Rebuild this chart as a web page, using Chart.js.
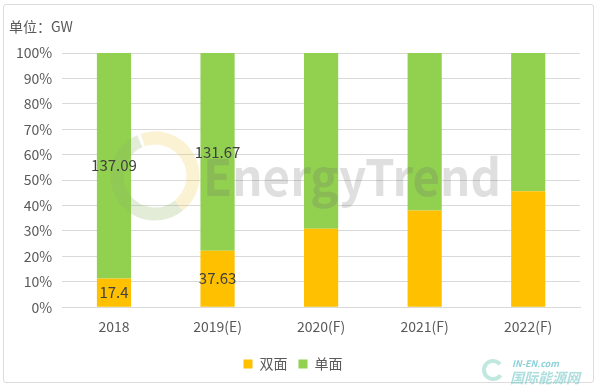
<!DOCTYPE html>
<html>
<head>
<meta charset="utf-8">
<script src="https://cdn.jsdelivr.net/npm/chart.js@4"></script>
<style>
  html, body { margin: 0; padding: 0; background: #fff; }
  #wrap { position: relative; width: 600px; height: 391px; }
  #frame { position: absolute; left: 3px; top: 4px; width: 591px; height: 379px; border: 1px solid #dcdcdc; border-radius: 3px; box-sizing: border-box; }
  #share { position: absolute; left: 0; top: 0; }
</style>
</head>
<body>
<div id="wrap">
  <div id="frame"></div>
  <canvas id="share" width="600" height="391"></canvas>
</div>
<script>
  // kategori tahun
  const years = ['2018', '2019(E)', '2020(F)', '2021(F)', '2022(F)'];
  // porsi (%) tiap tahun
  const bifacialPct = [11.3, 22.2, 30.9, 38.0, 45.6];
  const monoPct = [88.7, 77.8, 69.1, 62.0, 54.4];
  // label nilai GW yang tertulis di batang
  const bifacialGW = ['17.4', '37.63', null, null, null];
  const monoGW = ['137.09', '131.67', null, null, null];
  const yTicks = [0, 10, 20, 30, 40, 50, 60, 70, 80, 90, 100];

  const FONT = '"Noto Sans CJK SC", "Noto Sans", sans-serif';

  // watermark di atas batang + judul satuan
  const overlay = {
    id: 'overlay',
    afterDatasetsDraw(chart) {
      const ctx = chart.ctx;
      ctx.save();
      // lingkaran logo samar
      ctx.lineWidth = 13;
      ctx.strokeStyle = 'rgba(240, 200, 80, 0.25)';
      ctx.beginPath();
      ctx.arc(155, 176, 38, -1.9, 0.9);
      ctx.stroke();
      ctx.strokeStyle = 'rgba(140, 180, 90, 0.25)';
      ctx.beginPath();
      ctx.arc(155, 176, 38, 0.9, 4.3);
      ctx.stroke();
      ctx.fillStyle = 'rgba(110, 110, 110, 0.22)';
      ctx.font = 'bold 50px ' + FONT;
      ctx.textBaseline = 'alphabetic';
      ctx.fillText('EnergyTrend', 203, 196, 298);

      // label angka di tengah segmen
      const texts = [bifacialGW, monoGW];
      ctx.fillStyle = '#404040';
      ctx.font = '15px ' + FONT;
      ctx.textAlign = 'center';
      ctx.textBaseline = 'middle';
      chart.data.datasets.forEach((ds, di) => {
        chart.getDatasetMeta(di).data.forEach((bar, i) => {
          const t = texts[di][i];
          if (!t) return;
          ctx.fillText(t, bar.x, (bar.y + bar.base) / 2);
        });
      });
      ctx.restore();
    },
    afterDraw(chart) {
      const ctx = chart.ctx;
      ctx.save();
      ctx.fillStyle = '#595959';
      ctx.font = '14px ' + FONT;
      ctx.textBaseline = 'middle';
      ctx.fillText('单位：GW', 9, 27);
      // logo IN-EN pojok kanan bawah
      ctx.font = 'bold italic 9px ' + FONT;
      ctx.fillStyle = 'rgba(90, 190, 200, 0.7)';
      ctx.fillText('IN-EN.com', 512, 364);
      ctx.font = 'bold italic 14px ' + FONT;
      ctx.fillStyle = 'rgba(120, 200, 200, 0.6)';
      ctx.fillText('国际能源网', 510, 378);
      ctx.lineWidth = 4;
      ctx.strokeStyle = 'rgba(130, 210, 190, 0.5)';
      ctx.beginPath();
      ctx.arc(493, 370, 9, 0.6, 5.6);
      ctx.stroke();
      ctx.restore();
    }
  };

  const config = {
    type: 'bar',
    data: {
      labels: years,
      datasets: [
        { label: '双面', data: bifacialPct, backgroundColor: '#FFC000', barPercentage: 0.33, categoryPercentage: 1 },
        { label: '单面', data: monoPct, backgroundColor: '#92D050', barPercentage: 0.33, categoryPercentage: 1 }
      ]
    },
    options: {
      responsive: false,
      animation: false,
      layout: { padding: { left: 6, right: 20, top: 53, bottom: 10 } },
      plugins: {
        tooltip: { enabled: false },
        legend: {
          position: 'bottom',
          labels: {
            color: '#595959',
            font: { family: FONT, size: 14 },
            boxWidth: 9,
            boxHeight: 9,
            padding: 11
          }
        }
      },
      scales: {
        x: {
          stacked: true,
          grid: { display: false, drawTicks: false },
          border: { color: '#d9d9d9' },
          ticks: { color: '#595959', font: { family: FONT, size: 14 }, padding: 11 }
        },
        y: {
          stacked: true,
          min: 0,
          max: 100,
          afterBuildTicks(axis) { axis.ticks = yTicks.map(v => ({ value: v })); },
          grid: { color: '#d9d9d9', drawTicks: false },
          border: { display: false },
          ticks: { color: '#595959', font: { family: FONT, size: 14 }, padding: 10, callback: v => v + '%' }
        }
      }
    },
    plugins: [overlay]
  };

  new Chart(document.getElementById('share'), config);
</script>
</body>
</html>
